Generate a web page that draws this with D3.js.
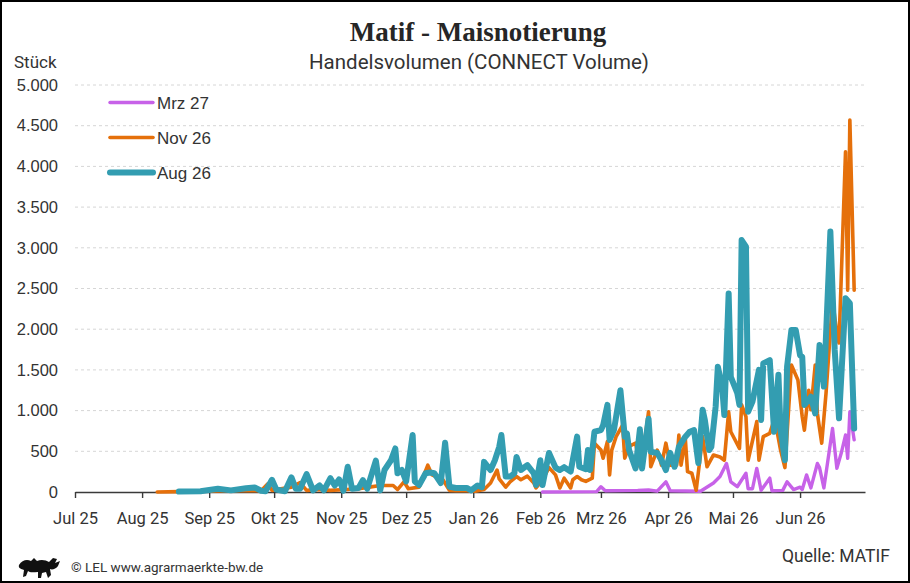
<!DOCTYPE html>
<html><head><meta charset="utf-8">
<script src="https://cdn.jsdelivr.net/npm/d3@7"></script>
<style>
html,body{margin:0;padding:0;background:#fff;}
svg{display:block;}
</style></head>
<body>
<svg id="chart" width="910" height="583"></svg>
<script>
// ---------- DATA ----------
const title = "Matif - Maisnotierung";
const subtitle = "Handelsvolumen (CONNECT Volume)";
const unitLabel = "Stück";
const sourceLabel = "Quelle: MATIF";
const creditLabel = "© LEL www.agrarmaerkte-bw.de";

const monthNames = ["Jan","Feb","Mrz","Apr","Mai","Jun","Jul","Aug","Sep","Okt","Nov","Dez"];
const xTickDates = ["2025-07-01","2025-08-01","2025-09-01","2025-10-01","2025-11-01","2025-12-01",
  "2026-01-01","2026-02-01","2026-03-01","2026-04-01","2026-05-01","2026-06-01"];
const yTicks = [0,500,1000,1500,2000,2500,3000,3500,4000,4500,5000];

const seriesNames = ["Mrz 27","Nov 26","Aug 26"];

const aug26Dates = ["2025-08-18","2025-08-28","2025-09-05","2025-09-11","2025-09-18","2025-09-22","2025-09-25","2025-09-27","2025-09-30","2025-10-02","2025-10-06","2025-10-09","2025-10-11","2025-10-13","2025-10-16","2025-10-19","2025-10-22","2025-10-24","2025-10-27","2025-10-29","2025-10-31","2025-11-02","2025-11-04","2025-11-06","2025-11-09","2025-11-11","2025-11-13","2025-11-17","2025-11-19","2025-11-21","2025-11-24","2025-11-26","2025-11-27","2025-11-29","2025-12-01","2025-12-04","2025-12-05","2025-12-07","2025-12-10","2025-12-12","2025-12-14","2025-12-17","2025-12-19","2025-12-21","2025-12-24","2025-12-29","2025-12-31","2026-01-03","2026-01-05","2026-01-06","2026-01-09","2026-01-11","2026-01-13","2026-01-14","2026-01-16","2026-01-18","2026-01-20","2026-01-21","2026-01-23","2026-01-25","2026-01-26","2026-01-29","2026-01-30","2026-02-01","2026-02-02","2026-02-05","2026-02-08","2026-02-10","2026-02-12","2026-02-15","2026-02-18","2026-02-19","2026-02-22","2026-02-23","2026-02-24","2026-02-26","2026-03-01","2026-03-02","2026-03-04","2026-03-05","2026-03-07","2026-03-10","2026-03-12","2026-03-13","2026-03-14","2026-03-17","2026-03-19","2026-03-20","2026-03-23","2026-03-24","2026-03-27","2026-03-29","2026-03-31","2026-04-02","2026-04-04","2026-04-06","2026-04-09","2026-04-11","2026-04-13","2026-04-15","2026-04-17","2026-04-18","2026-04-20","2026-04-21","2026-04-23","2026-04-24","2026-04-26","2026-04-27","2026-04-29","2026-04-30","2026-05-03","2026-05-04","2026-05-05","2026-05-07","2026-05-08","2026-05-10","2026-05-13","2026-05-14","2026-05-15","2026-05-18","2026-05-20","2026-05-22","2026-05-23","2026-05-25","2026-05-26","2026-05-28","2026-05-30","2026-06-01","2026-06-02","2026-06-03","2026-06-06","2026-06-08","2026-06-10","2026-06-12","2026-06-15","2026-06-17","2026-06-19","2026-06-22","2026-06-24","2026-06-26"];
const aug26Values = [5,10,40,20,45,55,15,10,150,30,10,180,40,40,220,20,80,20,170,80,155,15,310,40,50,145,40,385,20,270,390,535,230,270,130,700,130,85,230,240,230,110,605,65,50,50,20,80,60,370,270,390,555,700,190,190,230,430,270,310,330,230,85,390,85,480,300,270,305,250,680,310,280,515,270,740,760,820,1070,640,760,1250,680,720,515,290,770,290,900,495,480,390,270,480,310,555,680,740,760,355,1010,885,515,555,1050,1540,1295,945,2440,1415,1215,1070,3095,3015,985,1110,1500,885,1580,1620,740,1440,760,390,1540,1990,1990,1680,1660,1070,1170,965,1805,1295,3200,1745,905,2380,2320,780];

const nov26Dates = ["2025-08-08","2025-08-18","2025-09-11","2025-09-25","2025-09-28","2025-09-30","2025-10-09","2025-10-13","2025-10-16","2025-10-22","2025-10-27","2025-11-03","2025-11-09","2025-11-14","2025-11-19","2025-11-25","2025-11-27","2025-11-30","2025-12-02","2025-12-07","2025-12-11","2025-12-13","2025-12-18","2025-12-21","2025-12-24","2025-12-29","2026-01-02","2026-01-06","2026-01-09","2026-01-12","2026-01-13","2026-01-16","2026-01-18","2026-01-21","2026-01-23","2026-01-26","2026-01-29","2026-01-30","2026-02-02","2026-02-05","2026-02-08","2026-02-10","2026-02-12","2026-02-15","2026-02-16","2026-02-18","2026-02-20","2026-02-22","2026-02-25","2026-02-26","2026-03-01","2026-03-02","2026-03-04","2026-03-05","2026-03-06","2026-03-08","2026-03-11","2026-03-12","2026-03-14","2026-03-17","2026-03-19","2026-03-20","2026-03-23","2026-03-24","2026-03-27","2026-03-29","2026-03-31","2026-04-02","2026-04-05","2026-04-06","2026-04-07","2026-04-09","2026-04-10","2026-04-12","2026-04-14","2026-04-17","2026-04-19","2026-04-22","2026-04-25","2026-04-27","2026-04-29","2026-04-30","2026-05-04","2026-05-05","2026-05-07","2026-05-08","2026-05-12","2026-05-13","2026-05-15","2026-05-18","2026-05-20","2026-05-21","2026-05-23","2026-05-25","2026-05-28","2026-05-31","2026-06-02","2026-06-03","2026-06-05","2026-06-06","2026-06-08","2026-06-09","2026-06-11","2026-06-13","2026-06-16","2026-06-18","2026-06-19","2026-06-22","2026-06-23","2026-06-24","2026-06-26"];
const nov26Values = [0,5,15,15,100,20,60,115,20,30,20,30,40,60,80,80,30,125,40,60,330,210,150,20,15,15,10,30,110,270,160,60,125,190,150,195,110,50,150,300,210,50,170,50,150,190,150,130,170,600,515,415,620,210,515,680,820,415,560,600,310,390,985,310,515,330,600,330,330,700,330,650,250,230,20,680,310,455,430,390,985,740,535,1070,925,390,865,390,680,720,885,800,515,300,1560,1375,925,760,1250,1010,1560,965,600,1215,2360,1950,1830,4180,2480,4570,2480];

const mrz27Dates = ["2026-02-02","2026-02-27","2026-03-01","2026-03-03","2026-03-18","2026-03-23","2026-03-27","2026-03-31","2026-04-02","2026-04-16","2026-04-22","2026-04-25","2026-04-28","2026-04-30","2026-05-03","2026-05-07","2026-05-08","2026-05-10","2026-05-12","2026-05-14","2026-05-18","2026-05-19","2026-05-24","2026-05-26","2026-05-29","2026-06-01","2026-06-02","2026-06-04","2026-06-06","2026-06-09","2026-06-10","2026-06-12","2026-06-16","2026-06-18","2026-06-20","2026-06-22","2026-06-23","2026-06-24","2026-06-26"];
const mrz27Values = [0,5,65,15,20,25,10,125,15,10,110,190,350,125,65,230,40,40,290,20,170,15,20,125,30,60,30,210,50,350,300,50,780,290,475,700,415,985,640];

const seriesColors = ["#c762e8","#e5700b","#339db1"];
const seriesWidths = [3.4, 3.6, 6];

// ---------- CHART ----------
const parse = d3.timeParse("%Y-%m-%d");
const svg = d3.select("#chart");
const W = 910, H = 583;
const m = {left:75, right:45, top:85, bottom:91};

svg.append("rect").attr("x",1).attr("y",1).attr("width",W-2).attr("height",H-2)
  .attr("fill","#fff").attr("stroke","#000").attr("stroke-width",2);

const x = d3.scaleTime()
  .domain([parse("2025-07-01"), parse("2026-07-01")])
  .range([m.left, W - m.right]);
const y = d3.scaleLinear().domain([0,5000]).range([H - m.bottom, m.top]);

const de = d3.formatLocale({decimal:",", thousands:".", grouping:[3], currency:["","€"]});
const fmt = de.format(",");

// gridlines
svg.append("g").selectAll("line").data(yTicks.filter(v=>v>0)).join("line")
  .attr("x1", x.range()[0]).attr("x2", x.range()[1])
  .attr("y1", d=>y(d)).attr("y2", d=>y(d))
  .attr("stroke","#d6d6d6").attr("stroke-width",1).attr("stroke-dasharray","3,3");

// y axis
const yAxis = svg.append("g").attr("transform",`translate(${m.left},0)`)
  .call(d3.axisLeft(y).tickValues(yTicks).tickFormat(fmt).tickSize(0).tickPadding(17));
yAxis.select(".domain").remove();
yAxis.selectAll("text").attr("font-family","'Liberation Sans', Arial, sans-serif")
  .attr("font-size","16.5px").attr("fill","#333");

// x axis
const xAxis = svg.append("g").attr("transform",`translate(0,${H - m.bottom})`)
  .call(d3.axisBottom(x).tickValues(xTickDates.map(parse))
    .tickFormat(d => monthNames[d.getMonth()] + " " + String(d.getFullYear()).slice(2))
    .tickSize(6).tickPadding(14).tickSizeOuter(0));
xAxis.select(".domain").attr("stroke","#3a3a3a").attr("stroke-width",1.6);
xAxis.selectAll(".tick line").attr("stroke","#3a3a3a").attr("stroke-width",1.4);
xAxis.selectAll("text").attr("font-family","Roboto, sans-serif")
  .attr("font-size","16.5px").attr("fill","#333");

// lines
const seriesData = [
  mrz27Dates.map((d,i)=>({date:parse(d), value:mrz27Values[i]})),
  nov26Dates.map((d,i)=>({date:parse(d), value:nov26Values[i]})),
  aug26Dates.map((d,i)=>({date:parse(d), value:aug26Values[i]}))
];
const line = d3.line().x(d=>x(d.date)).y(d=>y(d.value));
svg.append("g").selectAll("path").data(seriesData).join("path")
  .attr("d", line).attr("fill","none")
  .attr("stroke",(d,i)=>seriesColors[i]).attr("stroke-width",(d,i)=>seriesWidths[i])
  .attr("stroke-linejoin","round").attr("stroke-linecap","round");

// legend
const lg = svg.append("g").attr("transform","translate(110,102.5)");
seriesNames.forEach((n,i)=>{
  const g = lg.append("g").attr("transform",`translate(0,${i*35})`);
  g.append("line").attr("x1",0).attr("x2",43).attr("y1",0).attr("y2",0)
    .attr("stroke",seriesColors[i]).attr("stroke-width",seriesWidths[i]).attr("stroke-linecap","round");
  g.append("text").attr("x",47).attr("y",0).attr("dy","0.36em").text(n)
    .attr("font-family","'Liberation Sans', Arial, sans-serif").attr("font-size","17px").attr("fill","#333");
});

// titles
svg.append("text").attr("x",478).attr("y",41).attr("text-anchor","middle").text(title)
  .attr("font-family","'Liberation Serif', 'DejaVu Serif', serif").attr("font-weight","bold")
  .attr("font-size","27px").attr("fill","#262626");
svg.append("text").attr("x",479).attr("y",69).attr("text-anchor","middle").text(subtitle)
  .attr("font-family","Roboto, sans-serif").attr("font-size","20.5px").attr("fill","#333");
svg.append("text").attr("x",14).attr("y",68).text(unitLabel)
  .attr("font-family","Roboto, sans-serif").attr("font-size","17px").attr("fill","#333");

// footer
svg.append("text").attr("x",890).attr("y",562).attr("text-anchor","end").text(sourceLabel)
  .attr("font-family","Roboto, sans-serif").attr("font-size","17.5px").attr("fill","#333");
svg.append("text").attr("x",71).attr("y",572).text(creditLabel)
  .attr("font-family","Roboto, sans-serif").attr("font-size","13.5px").attr("fill","#333");

// simple lion emblem
svg.append("path").attr("fill","#111").attr("d",
  "M19,565 C22,560 27,559 31,561 L34,558 L37,561 C41,559 46,560 49,562 L53,558 L57,559 L55,563 L60,561 L58,566 " +
  "C56,569 52,570 50,569 L51,575 L48,578 L46,572 L42,573 L41,578 L38,578 L38,572 C34,572 30,573 28,571 " +
  "L26,576 L23,577 L24,570 C21,569 18,568 19,565 Z");
</script>
</body></html>
